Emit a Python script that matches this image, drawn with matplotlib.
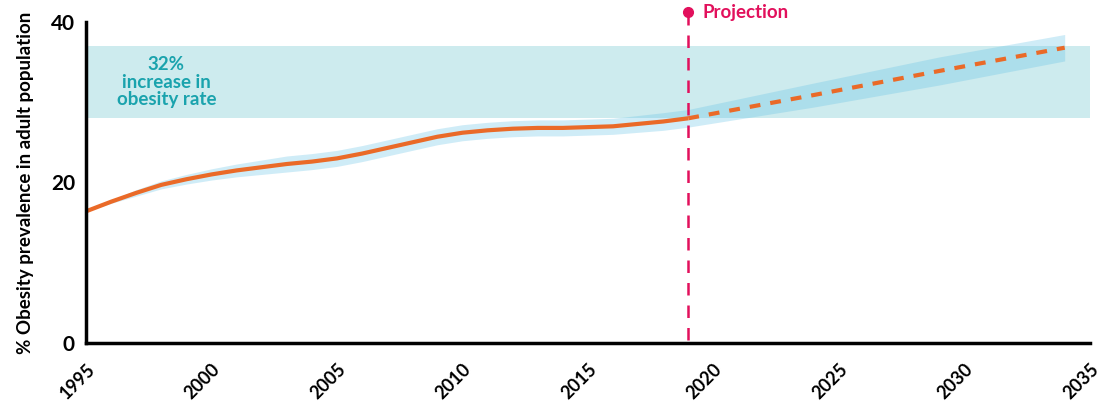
import numpy as np
import matplotlib
matplotlib.use("Agg")
import matplotlib.pyplot as plt
from matplotlib.transforms import ScaledTranslation

plt.rcParams['font.family'] = ['Lato', 'DejaVu Sans']

# historical series
years = [1995, 1996, 1997, 1998, 1999, 2000, 2001, 2002, 2003, 2004, 2005, 2006,
         2007, 2008, 2009, 2010, 2011, 2012, 2013, 2014, 2015, 2016, 2017, 2018, 2019]
rate = [16.4, 17.6, 18.7, 19.7, 20.4, 21.0, 21.5, 21.9, 22.3, 22.6, 23.0, 23.6,
        24.3, 25.0, 25.7, 26.2, 26.5, 26.7, 26.8, 26.8, 26.9, 27.0, 27.3, 27.6, 28.0]
spread = [0.0, 0.2, 0.4, 0.5, 0.6, 0.7, 0.8, 0.9, 1.0, 1.0, 1.0, 1.0,
          1.0, 1.0, 1.0, 1.0, 1.0, 1.0, 1.0, 1.0, 1.0, 1.0, 1.05, 1.1, 1.1]

# projection
proj_years = [2019, 2024, 2029, 2034]
proj_rate = [28.0, 30.9, 33.9, 36.8]
proj_spread = [1.1, 1.5, 1.75, 1.65]

target_band = (28.0, 37.0)
proj_start = 2019
yticks = [0, 20, 40]
xticks = [1995, 2000, 2005, 2010, 2015, 2020, 2025, 2030, 2035]

orange = '#ea6a28'
crimson = '#e2105c'
teal = '#1aa3ad'

fig = plt.figure(figsize=(11.03, 4.01), dpi=100)
ax = fig.add_axes([0.078, 0.145, 0.91, 0.80])

ax.axhspan(target_band[0], target_band[1], color='#cdebee', zorder=1, lw=0)

y = np.array(rate); s = np.array(spread)
ax.fill_between(years, y - s, y + s, color='#62c1e6', alpha=0.3, lw=0, zorder=2)
py = np.array(proj_rate); ps = np.array(proj_spread)
ax.fill_between(proj_years, py - ps, py + ps, color='#62c1e6', alpha=0.3, lw=0, zorder=2)

ax.plot(years, rate, color=orange, lw=3, solid_capstyle='butt', zorder=4)
ax.plot(proj_years, proj_rate, color=orange, lw=3, ls=(0, (2.6, 2.4)), zorder=4)

ax.plot([proj_start, proj_start], [0.4, 40.6], color=crimson, lw=1.8, ls=(0, (5, 4)),
        zorder=5, clip_on=False)
ax.plot([proj_start], [41.2], 'o', color=crimson, ms=7, zorder=6, clip_on=False)
ax.text(proj_start + 0.55, 41.2, 'Projection', color=crimson, fontsize=13.5,
        fontweight='bold', va='center', ha='left')

ax.text(1998.2, 32.5, '32%\nincrease in\nobesity rate', color=teal, fontsize=13.5,
        fontweight='bold', ha='center', va='center', linespacing=1.05)

ax.set_xlim(1995, 2035)
ax.set_ylim(0, 40)
ax.set_xticks(xticks)
ax.set_xticklabels([str(t) for t in xticks], rotation=45, ha='right', va='top',
                   rotation_mode='anchor', fontsize=13, fontweight='bold')
shift = ScaledTranslation(1 / 100, 0, fig.dpi_scale_trans)
for lab in ax.get_xticklabels():
    lab.set_transform(lab.get_transform() + shift)
ax.set_yticks(yticks)
ax.set_yticklabels([str(t) for t in yticks], fontsize=15, fontweight='bold')
ax.tick_params(length=0)
ax.tick_params(axis='x', pad=13)
ax.tick_params(axis='y', pad=8)
ax.set_ylabel('% Obesity prevalence in adult population', fontsize=13.5,
              fontweight='bold', labelpad=12)

for side in ['top', 'right']:
    ax.spines[side].set_visible(False)
for side in ['left', 'bottom']:
    ax.spines[side].set_linewidth(2.5)
    ax.spines[side].set_zorder(7)

fig.savefig('out.png', dpi=100)
